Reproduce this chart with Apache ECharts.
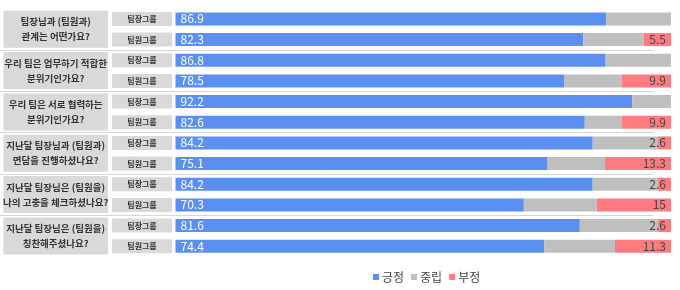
<!DOCTYPE html>
<html><head><meta charset="utf-8">
<script src="https://cdn.jsdelivr.net/npm/echarts@6/dist/echarts.min.js"></script>
<style>html,body{margin:0;padding:0;background:#fff}#c{width:680px;height:290px}</style>
</head><body><div id="c"></div>
<script>
const questions = [
  '팀장님과 (팀원과)\n관계는 어떤가요?',
  '우리 팀은 업무하기 적합한\n분위기인가요?',
  '우리 팀은 서로 협력하는\n분위기인가요?',
  '지난달 팀장님과 (팀원과)\n면담을 진행하셨나요?',
  '지난달 팀장님은 (팀원을)\n나의 고충을 체크하셨나요?',
  '지난달 팀장님은 (팀원을)\n칭찬해주셨나요?'
];
const groups = ['팀장그룹','팀원그룹','팀장그룹','팀원그룹','팀장그룹','팀원그룹','팀장그룹','팀원그룹','팀장그룹','팀원그룹','팀장그룹','팀원그룹'];
const rowIds = groups.map((g, i) => i + '');
const positive = [86.9, 82.3, 86.8, 78.5, 92.2, 82.6, 84.2, 75.1, 84.2, 70.3, 81.6, 74.4];
const neutral  = [13.1, 12.2, 13.2, 11.6, 7.8, 7.5, 13.2, 11.6, 13.2, 14.7, 15.8, 14.3];
const negative = [0, 5.5, 0, 9.9, 0, 9.9, 2.6, 13.3, 2.6, 15, 2.6, 11.3];
const seriesNames = ['긍정', '중립', '부정'];
const colors = ['#5b8ff0', '#bfbfbf', '#ff7b80'];

const FONT = '"Noto Sans CJK KR", "Noto Sans", sans-serif';
const chart = echarts.init(document.getElementById('c'), null, {renderer: 'canvas'});
const gTop = 8.6, gBottom = 33.4;
chart.setOption({
  animation: false,
  textStyle: {fontFamily: FONT},
  color: colors,
  legend: {
    data: seriesNames, left: 368, top: 266, icon: 'rect', itemWidth: 6, itemHeight: 6,
    itemGap: 7, textStyle: {fontSize: 12, color: '#444', fontFamily: FONT, padding: [0,0,0,-2]}
  },
  grid: [
    {left: 175.5, right: 9, top: gTop, bottom: gBottom},
    {left: 0, right: 27, top: gTop, bottom: gBottom}
  ],
  xAxis: [
    {gridIndex: 0, type: 'value', min: 0, max: 100, show: false},
    {gridIndex: 1, type: 'value', min: 0, max: 1, show: false}
  ],
  yAxis: [
    {gridIndex: 0, type: 'category', inverse: true, data: rowIds,
     axisLine: {show: false}, axisTick: {show: false}, splitLine: {show: false},
     axisLabel: {
       formatter: (v) => groups[+v],
       align: 'center', margin: 33.5, width: 60, height: 14, lineHeight: 14,
       backgroundColor: '#d9d9d9', color: '#333', fontSize: 8, fontWeight: 'bold', fontFamily: FONT
     }},
    {gridIndex: 1, type: 'category', inverse: true, data: questions,
     axisLine: {show: false}, axisTick: {show: false},
     splitLine: {show: true, showMinLine: false, showMaxLine: false, lineStyle: {color: '#d6d6d6', width: 1}},
     axisLabel: {
       inside: true, align: 'center', margin: 55.5, width: 104.5, height: 37, lineHeight: 15,
       backgroundColor: '#d9d9d9', color: '#333', fontSize: 9.5, fontWeight: 'bold', fontFamily: FONT
     }}
  ],
  series: [
    {name: seriesNames[0], type: 'bar', stack: 's', xAxisIndex: 0, yAxisIndex: 0, barWidth: 13, data: positive,
     label: {show: true, position: 'insideLeft', distance: 5, color: '#fff', fontSize: 12, fontFamily: FONT}},
    {name: seriesNames[1], type: 'bar', stack: 's', xAxisIndex: 0, yAxisIndex: 0, barWidth: 13, data: neutral,
     label: {show: false}},
    {name: seriesNames[2], type: 'bar', stack: 's', xAxisIndex: 0, yAxisIndex: 0, barWidth: 13, data: negative,
     label: {show: true, position: 'insideRight', distance: 5, color: '#444', fontSize: 12, fontFamily: FONT,
       formatter: (p) => p.value ? String(p.value) : ''}}
  ]
});
</script></body></html>
